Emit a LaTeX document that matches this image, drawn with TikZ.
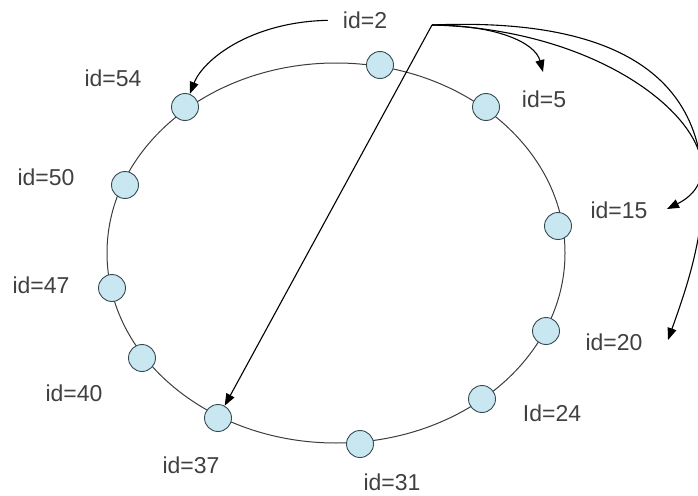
\documentclass[tikz,border=0pt]{standalone}
\usepackage{fontspec}
\setmainfont{Liberation Sans}
\usetikzlibrary{arrows.meta}

\definecolor{peerfill}{RGB}{200,231,240}
\definecolor{peerline}{RGB}{55,75,85}
\definecolor{ringline}{RGB}{60,60,60}

\tikzset{
    peer/.style={circle, draw=peerline, fill=peerfill, line width=0.9pt, minimum size=27pt, inner sep=0pt},
    idlabel/.style={font=\fontsize{23}{28}\selectfont, text=black!75, inner sep=0pt},
    link/.style={line width=1.1pt, -{Triangle[length=12pt,width=9pt]}}
}

\begin{document}
\begin{tikzpicture}[x=1pt, y=-1pt]
    \useasboundingbox (0,0) rectangle (698,495);

    % Ring
    \draw[ringline, line width=1pt] (336,253) ellipse [x radius=229, y radius=190];

    % Peers on the ring
    \foreach \name/\x/\y in {top/380/65, n5/486/107, n15/558/226, n20/546/331, n24/482/399, n31/360/444, n37/218/418, n40/142/358, n47/112/288, n50/125/185, n54/185/107} {
        \node[peer] (\name) at (\x,\y) {};
    }

    % Labels
    \foreach \name/\x/\y/\txt in {l2/365/20/id=2, l5/544/99/id=5, l15/619/210/id=15, l20/614/342/id=20, l24/552/413/Id=24, l31/392/482/id=31, l37/191/465/id=37, l40/74/393/id=40, l47/41/285/id=47, l50/46/177/id=50, l54/113/78/id=54} {
        \node[idlabel] (\name) at (\x,\y) {\txt};
    }

    % Lookup arrows
    \coordinate (hub) at (432,25);
    \coordinate (to5) at (543,72);
    \coordinate (to15) at (667,209);
    \coordinate (to20) at (668,340);

    \draw[link, shorten <=15pt] (l2.west) .. controls (250,22) and (203,60) .. (n54.70);
    \draw[link] (hub) -- (n37);
    \draw[link] (hub) .. controls (495,25) and (535,42) .. (to5);
    \draw[link] (hub) .. controls (640,30) and (755,165) .. (to15);
    \draw[link] (hub) .. controls (790,10) and (700,250) .. (to20);

\end{tikzpicture}
\end{document}
